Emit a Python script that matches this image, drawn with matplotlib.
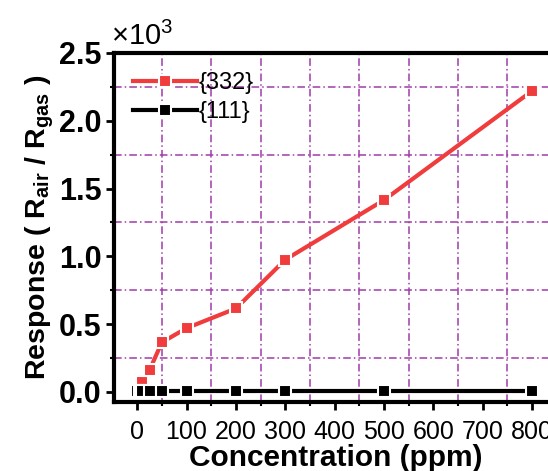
import numpy as np
import matplotlib
matplotlib.use('Agg')
import matplotlib.pyplot as plt
from matplotlib.ticker import MultipleLocator

plt.rcParams['font.family'] = ['Liberation Sans', 'DejaVu Sans']
plt.rcParams['mathtext.fontset'] = 'custom'
plt.rcParams['mathtext.rm'] = 'Liberation Sans:bold'
plt.rcParams['mathtext.sf'] = 'Liberation Sans'

# data (response in units of 10^3)
conc_332 = [5, 10, 25, 50, 100, 200, 300, 500, 800]
resp_332 = [0.03, 0.07, 0.16, 0.365, 0.47, 0.615, 0.975, 1.415, 2.22]
conc_111 = [0, 5, 10, 25, 50, 100, 200, 300, 500, 800]
resp_111 = [0.005, 0.005, 0.005, 0.005, 0.005, 0.005, 0.005, 0.005, 0.005, 0.005]

x_ticks = [0, 100, 200, 300, 400, 500, 600, 700, 800]
y_ticks = [0.0, 0.5, 1.0, 1.5, 2.0, 2.5]

fig = plt.figure(figsize=(5.48, 4.71), dpi=100)
ax = fig.add_axes([0.208, 0.1465, 0.808, 0.741])

grid_col = '#a03ca8'
ax.set_xlim(-47, 850)
ax.set_ylim(-0.075, 2.5)
ax.xaxis.set_minor_locator(MultipleLocator(50))
ax.yaxis.set_minor_locator(MultipleLocator(0.25))
ax.grid(which='minor', color=grid_col, linestyle=(0, (5, 2, 1, 2)), linewidth=1.1)
ax.grid(which='major', visible=False)

ax.plot(conc_332, resp_332, '-s', color='#f03c3c', lw=3, ms=9,
        mec='white', mew=1.5, mfc='#f03c3c', label='{332}', zorder=3)
ax.plot(conc_111, resp_111, '-s', color='black', lw=3, ms=8,
        mec='white', mew=1.5, mfc='black', label='{111}', zorder=3)

ax.set_xticks(x_ticks)
ax.set_xticklabels([str(v) for v in x_ticks], fontsize=18)
ax.set_yticks(y_ticks)
ax.set_yticklabels(['%.1f' % v for v in y_ticks], fontsize=22, fontweight='bold')

for s in ax.spines.values():
    s.set_linewidth(3)
ax.tick_params(which='major', direction='out', length=6, width=2, pad=3)
ax.tick_params(axis='x', which='major', pad=7)
ax.tick_params(which='minor', direction='out', length=3, width=1.5)
ax.tick_params(top=False, right=False, which='both')

ax.set_xlabel('Concentration (ppm)', fontsize=21.5, fontweight='bold', labelpad=0)
ax.set_ylabel(r'Response ( R$_{\mathrm{air}}$ / R$_{\mathrm{gas}}$ )',
              fontsize=20.5, fontweight='bold', labelpad=2)

fig.text(0.203, 0.905, r'$\mathsf{\times10^{3}}$', fontsize=21)

leg = ax.legend(loc='upper left', frameon=False, fontsize=17,
                handlelength=2.7, handletextpad=0.1, labelspacing=0.3,
                borderaxespad=0.4)

fig.savefig('out.png', dpi=100)
